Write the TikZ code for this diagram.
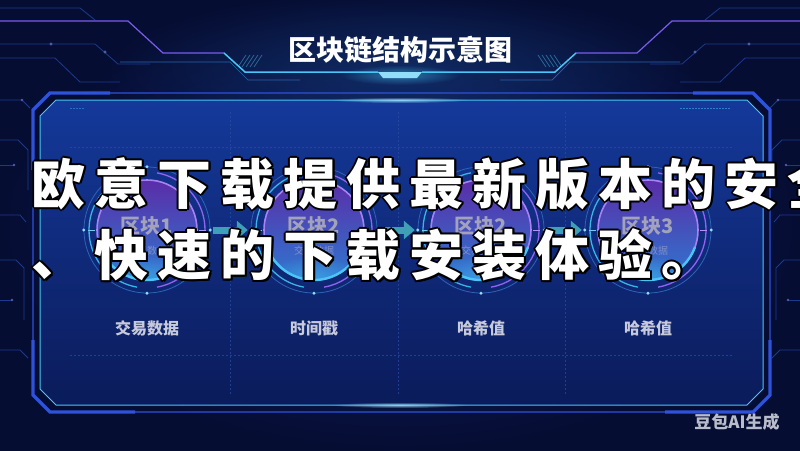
\documentclass[tikz,border=0pt]{standalone}
\usepackage{fontspec}
\newfontfamily\cjk{Noto Sans CJK SC}
\usetikzlibrary{arrows.meta,calc,fadings}
\definecolor{bgdark}{HTML}{060D33}
\definecolor{bgmid}{HTML}{0D2470}
\definecolor{panelTop}{HTML}{14399A}
\definecolor{panelBot}{HTML}{0B1B5A}
\definecolor{cyanline}{HTML}{48C6F6}
\definecolor{frameblue}{HTML}{2E52DA}
\definecolor{purpleline}{HTML}{7A5CEE}
\definecolor{arrowteal}{HTML}{3E9FB6}
\definecolor{labelgray}{HTML}{C6CADC}
\definecolor{blockgray}{HTML}{A2A2BC}
\definecolor{subgray}{HTML}{7F8FC8}
\definecolor{gridline}{HTML}{2B4DA4}
\definecolor{diskTop}{HTML}{5B2DA8}
\definecolor{diskMid}{HTML}{4A3AB4}
\definecolor{diskBot}{HTML}{2E78D0}
\definecolor{ringpurple}{HTML}{9262F2}
\definecolor{ringcyan}{HTML}{38B4E6}
\definecolor{ringthin}{HTML}{2D64B8}
\definecolor{circuit}{HTML}{1B3A8E}
\definecolor{wmgray}{HTML}{B9BDCB}
\tikzfading[name=glowfade, inner color=transparent!0, outer color=transparent!100]
\newcommand{\ovlch}[1]{\makebox[63pt]{#1}}
\newcommand{\ovllineone}{\ovlch{欧}\ovlch{意}\ovlch{下}\ovlch{载}\ovlch{提}\ovlch{供}\ovlch{最}\ovlch{新}\ovlch{版}\ovlch{本}\ovlch{的}\ovlch{安}\ovlch{全}}
\newcommand{\ovllinetwo}{\ovlch{、}\ovlch{快}\ovlch{速}\ovlch{的}\ovlch{下}\ovlch{载}\ovlch{安}\ovlch{装}\ovlch{体}\ovlch{验}\ovlch{。}}
\begin{document}
\begin{tikzpicture}[x=1pt,y=-1pt,
  titlefont/.style={font=\cjk\bfseries\fontsize{28}{28}\selectfont,text=white,inner sep=0pt},
  blocknode/.style={circle,minimum size=126pt,inner sep=0pt},
  blocktitle/.style={font=\cjk\bfseries\fontsize{20}{20}\selectfont,text=blockgray,inner sep=0pt},
  blocksub/.style={font=\cjk\fontsize{10}{10}\selectfont,text=subgray,inner sep=0pt},
  blocklabel/.style={font=\cjk\bfseries\fontsize{16}{16}\selectfont,text=labelgray,inner sep=0pt},
  chainarrow/.style={draw=arrowteal,line width=7pt,-{Triangle[length=11pt,width=18pt,fill=arrowteal]}},
  ovltext/.style={font=\cjk\bfseries\fontsize{54}{54}\selectfont,inner sep=0pt,anchor=west},
  circuitline/.style={draw=circuit,line width=0.8pt},
  gridstyle/.style={draw=gridline,line width=0.6pt,dash pattern=on 2pt off 2pt},
  wmstyle/.style={font=\cjk\bfseries\fontsize{17}{17}\selectfont,text=wmgray,inner sep=0pt},
]
\useasboundingbox (0,0) rectangle (800,450);
% background
\shade[inner color=bgmid, outer color=bgdark] (0,0) rectangle (800,450);
\fill[bgmid!70!cyanline, opacity=0.35, path fading=glowfade] (400,70) ellipse [x radius=300pt, y radius=80pt];
% circuit decorations (left and mirrored right)
\foreach \side in {0,1}{
\begin{scope}[shift={(800*\side,0)}, xscale={1-2*\side}]
  \draw[circuitline] (0,44) -- (95,44) -- (118,64) -- (150,64);
  \draw[circuitline] (0,58) -- (55,58) -- (80,82) -- (120,82);
  \draw[circuitline] (0,8) -- (80,8) -- (95,20);
  \draw[circuitline] (0,100) -- (22,100) -- (30,108);
  \draw[circuitline] (0,140) -- (18,140) -- (28,150) -- (28,190);
  \draw[circuitline] (0,165) -- (14,165);
  \draw[circuitline] (0,215) -- (20,215) -- (26,222);
  \draw[circuitline] (0,260) -- (16,260) -- (24,268) -- (24,320);
  \draw[circuitline] (0,300) -- (12,300);
  \draw[circuitline] (0,350) -- (20,350) -- (28,358);
  \fill[circuit!80!white] (51,44) circle [radius=1.6pt] (105,52) circle [radius=1.6pt] (22,100) circle [radius=1.4pt] (14,165) circle [radius=1.4pt] (12,300) circle [radius=1.4pt];
  % title lines
  \draw[purpleline, line width=1.2pt] (0,21) -- (128,21) -- (163,53) -- (224,53);
  \draw[cyanline, line width=1.5pt] (224,53) -- (245,72) -- (378,72);
  \draw[circuit!70!cyanline, line width=0.7pt] (120,62) -- (230,62) -- (248,80) -- (300,80);
  \foreach \k in {0,...,4} \draw[cyanline, opacity=0.45, line width=0.8pt] ({238+4*\k},67) -- ({246+4*\k},55);
\end{scope}
}
% title centre mark
\fill[cyanline, opacity=0.5, path fading=glowfade] (400,75) ellipse [x radius=60pt, y radius=10pt];
\fill[cyanline!60!white] (378,72) -- (422,72) -- (417,78) -- (383,78) -- cycle;
% title
\node[titlefont] (title) at (400,50) {区块链结构示意图};
% panel
\coordinate (p1) at (40,116); \coordinate (p2) at (56,100); \coordinate (p3) at (747,100); \coordinate (p4) at (763,116);
\coordinate (p5) at (763,389); \coordinate (p6) at (747,405); \coordinate (p7) at (56,405); \coordinate (p8) at (40,389);
\shade[top color=panelTop, bottom color=panelBot] (p1) -- (p2) -- (p3) -- (p4) -- (p5) -- (p6) -- (p7) -- (p8) -- cycle;
\draw[cyanline, line width=1pt] (p1) -- (p2) -- (p3) -- (p4) -- (p5) -- (p6) -- (p7) -- (p8) -- cycle;
\draw[frameblue, line width=1.4pt] (33,110) -- (50,93) -- (753,93) -- (770,110) -- (770,395) -- (753,412) -- (50,412) -- (33,395) -- cycle;
\draw[frameblue, line width=3.2pt] (33,170) -- (33,110) -- (50,93) -- (110,93);
\draw[frameblue, line width=3.2pt] (770,170) -- (770,110) -- (753,93) -- (693,93);
\draw[frameblue, line width=3.2pt] (33,340) -- (33,395) -- (50,412) -- (135,412);
\draw[frameblue, line width=3.2pt] (770,340) -- (770,395) -- (753,412) -- (665,412);
\fill[cyanline!50!white, opacity=0.8, path fading=glowfade] (400,100) ellipse [x radius=70pt, y radius=3pt];
\fill[cyanline!50!white, opacity=0.8, path fading=glowfade] (400,405) ellipse [x radius=70pt, y radius=3pt];
\draw[cyanline, opacity=0.5, dash pattern=on 1.5pt off 1.5pt] (680,108) -- (730,108);
\draw[cyanline, opacity=0.4, dash pattern=on 1.5pt off 1.5pt] (70,108) -- (85,108);
% grid
\foreach \gx in {230,398,565} \draw[gridstyle, opacity=0.7] (\gx,112) -- (\gx,395);
\draw[gridstyle, opacity=0.7] (70,147) -- (733,147);
\draw[gridstyle, opacity=0.7] (70,355) -- (733,355);
% blocks
\foreach \i/\x/\t/\lab in {1/147/区块1/交易数据, 2/314/区块2/时间戳, 3/481/区块2/哈希值, 4/648/区块3/哈希值}{
  \node[blocknode] (b\i) at (\x,230) {};
  \draw[ringthin, line width=0.8pt] (b\i.center) circle [radius=63pt];
  \draw[ringcyan, line width=1.3pt] ([shift={(100:58pt)}]b\i.center) arc [start angle=100, end angle=260, radius=58pt];
  \draw[ringpurple, line width=1.3pt] ([shift={(-80:58pt)}]b\i.center) arc [start angle=-80, end angle=80, radius=58pt];
  \shade[top color=diskTop, middle color=diskMid, bottom color=diskBot] (b\i.center) circle [radius=50pt];
  \begin{scope}
    \clip (b\i.center) circle [radius=50pt];
    \fill[cyanline, opacity=0.45, path fading=glowfade] ([yshift=-46pt]b\i.center) ellipse [x radius=48pt, y radius=20pt];
  \end{scope}
  \draw[ringpurple!80!white, line width=1.6pt] (b\i.center) circle [radius=50pt];
  \draw[cyanline, line width=2.4pt] ([shift={(200:50pt)}]b\i.center) arc [start angle=200, end angle=340, radius=50pt];
  \fill[cyanline!60!white] (b\i.north) circle [radius=1.6pt] (b\i.south) circle [radius=1.6pt] (b\i.west) circle [radius=1.6pt] (b\i.east) circle [radius=1.6pt];
  \draw[ringcyan!70!white, line width=1pt] ([xshift=-52pt]b\i.center) -- ++(-7pt,0pt);
  \draw[ringpurple!70!white, line width=1pt] ([xshift=52pt]b\i.center) -- ++(7pt,0pt);
  \node[blocktitle] (t\i) at (\x,226) {\t};
  \node[blocksub] (s\i) at (\x,251) {交易数据};
  \node[blocklabel] (l\i) at (\x,328) {\lab};
}
% connectors
\draw[chainarrow] ([xshift=3pt]b1.east) -- ([xshift=-3pt]b2.west);
\draw[chainarrow] ([xshift=3pt]b2.east) -- ([xshift=-3pt]b3.west);
\draw[chainarrow] ([xshift=3pt]b3.east) -- ([xshift=-3pt]b4.west);
% watermark
\node[wmstyle] (wm) at (737,422) {豆包AI生成};
% overlay text
\foreach \dx/\dy in {-2/0,2/0,0/-2,0/2,-1.4/-1.4,1.4/-1.4,-1.4/1.4,1.4/1.4}{
  \node[ovltext, text=black] at ({27+(\dx)},{184+(\dy)}) {\ovllineone};
  \node[ovltext, text=black] at ({27+(\dx)},{255+(\dy)}) {\ovllinetwo};
}
\node[ovltext, text=white] (ovl1) at (27,184) {\ovllineone};
\node[ovltext, text=white] (ovl2) at (27,255) {\ovllinetwo};
\end{tikzpicture}
\end{document}
